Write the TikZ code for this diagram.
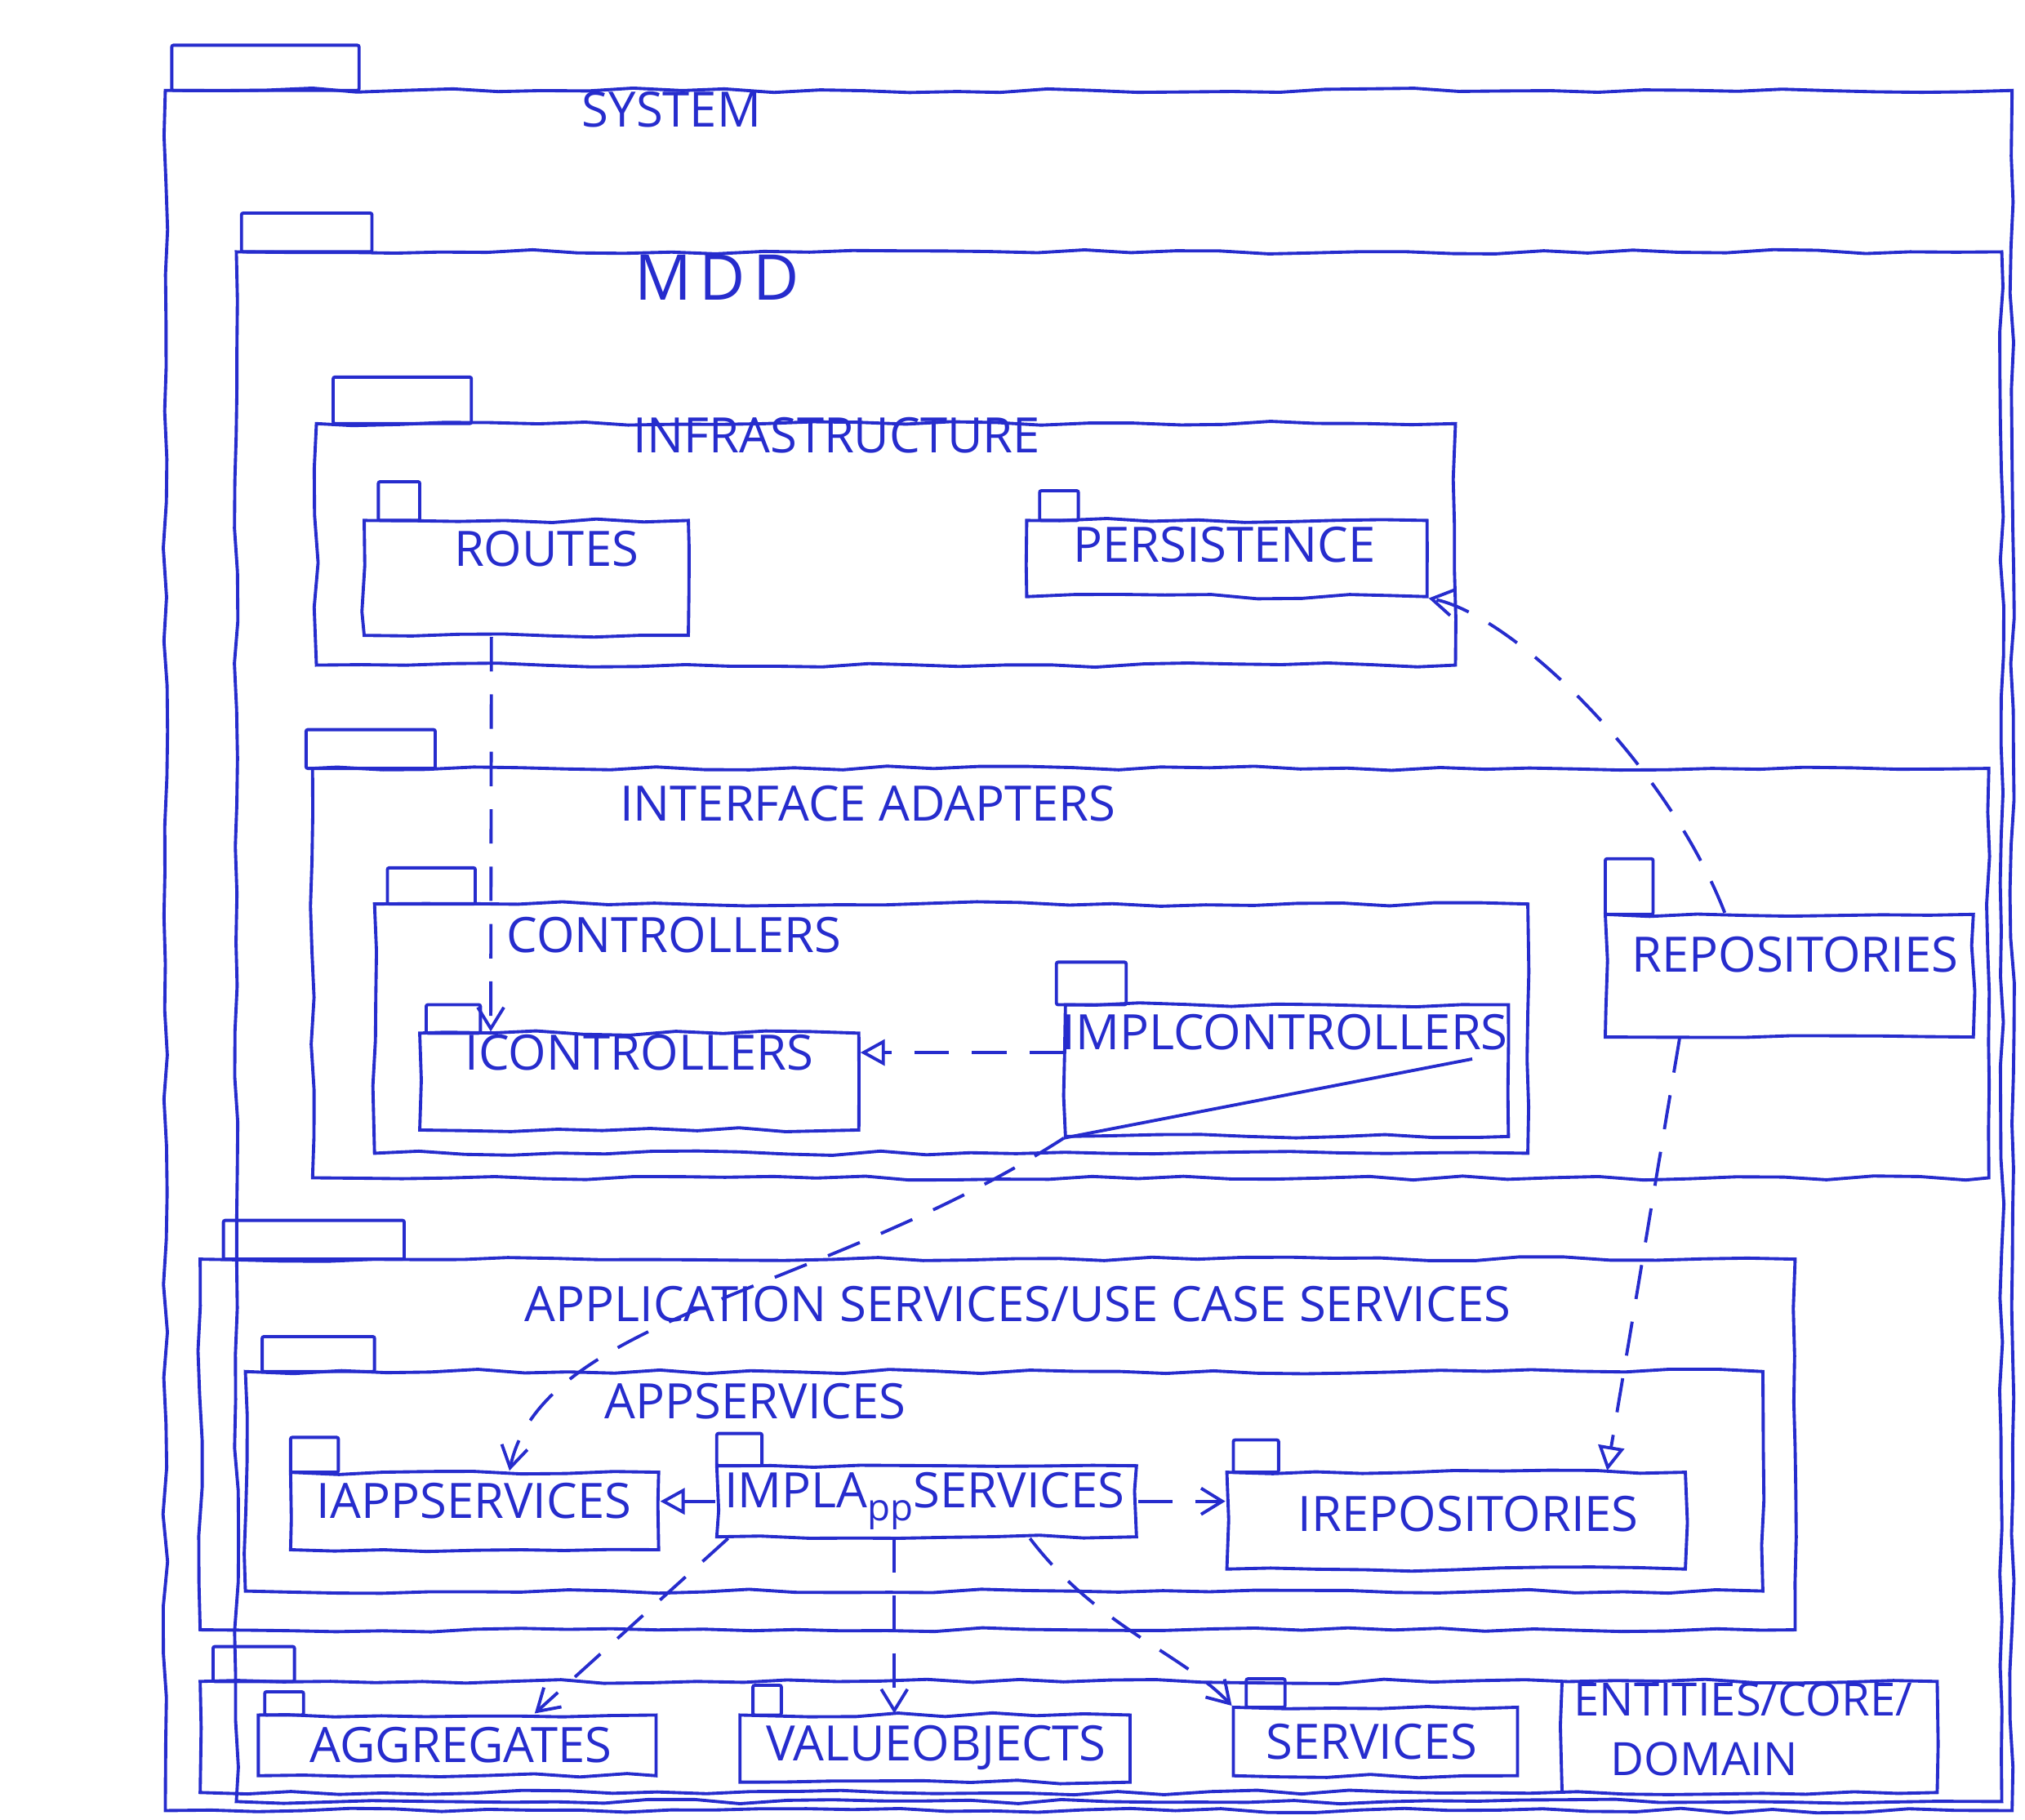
\documentclass[tikz,border=0pt]{standalone}
\usepackage{fontspec}
\setmainfont{Open Sans}
\usetikzlibrary{arrows.meta,fit,calc,decorations.pathmorphing}
\definecolor{ink}{RGB}{38,44,205}
\pgfmathsetseed{7}
\tikzset{%
  >={Straight Barb[length=2.6mm,width=3.2mm]},
  % Specifications for style of packages:
       inkline/.style = {draw=ink, line width=1.1pt},
       pkgbase/.style = {inkline, inner sep=0pt, decorate,
                         decoration={random steps, segment length=16pt, amplitude=0.8pt}},
       pkgbody/.style = {pkgbase},
        pkgtab/.style = {inkline, inner sep=0pt, rounded corners=0.6pt},
       pkgname/.style = {text=ink, inner sep=1pt, font=\fontsize{17}{20}\selectfont},
  % Specifications for style of dependencies:
       depends/.style = {inkline, dash pattern=on 12pt off 8pt, ->},
      realizes/.style = {depends, -{Triangle[open, length=3mm, width=3.2mm, line width=1.1pt]}},
}

\begin{document}
\begin{tikzpicture}[x=0.15816mm, y=-0.15816mm]
  \useasboundingbox (0,0) rectangle (1568,1409);
  % Specification of packages (position, etc.)

  \node (systemtab)       [pkgtab,  fit={(133,35) (278,70)}] {};
  \node (system)          [pkgbody, fit={(128,70) (1558,1402)}] {};
  \node (systemlbl)       [pkgname] at (520,85) {SYSTEM};

  \node (mddtab)          [pkgtab,  fit={(187,165) (288,195)}] {};
  \node (mdd)             [pkgbody, fit={(183,195) (1550,1395)}] {};
  \node (mddlbl)          [pkgname, font=\fontsize{22}{26}\selectfont\addfontfeature{LetterSpace=12}] at (555,215) {MDD};

  % infrastructure
  \node (infratab)        [pkgtab,  fit={(258,292) (365,328)}] {};
  \node (infra)           [pkgbody, fit={(245,328) (1127,515)}] {};
  \node (infralbl)        [pkgname] at (648,337) {INFRASTRUCTURE};
  \node (routestab)       [pkgtab,  fit={(293,373) (325,403)}] {};
  \node (routes)          [pkgbody, fit={(282,403) (533,492)}] {};
  \node (routeslbl)       [pkgname] at (423,425) {ROUTES};
  \node (persistencetab)  [pkgtab,  fit={(805,380) (835,403)}] {};
  \node (persistence)     [pkgbody, fit={(795,403) (1105,462)}] {};
  \node (persistencelbl)  [pkgname] at (948,422) {PERSISTENCE};

  % interface adapters
  \node (ifadapttab)      [pkgtab,  fit={(237,565) (337,595)}] {};
  \node (ifadapt)         [pkgbody, fit={(242,595) (1540,912)}] {};
  \node (ifadaptlbl)      [pkgname] at (672,622) {INTERFACE ADAPTERS};
  \node (controllerstab)  [pkgtab,  fit={(300,672) (368,700)}] {};
  \node (controllers)     [pkgbody, fit={(290,700) (1183,893)}] {};
  \node (controllerslbl)  [pkgname] at (522,724) {CONTROLLERS};
  \node (icontrollerstab) [pkgtab,  fit={(330,778) (372,800)}] {};
  \node (icontrollers)    [pkgbody, fit={(325,800) (665,875)}] {};
  \node (icontrollerslbl) [pkgname] at (495,815) {ICONTROLLERS};
  \node (implcontrollerstab) [pkgtab,  fit={(818,745) (872,778)}] {};
  \node (implcontrollers) [pkgbody, fit={(825,778) (1168,880)}] {};
  \node (implcontrollerslbl) [pkgname] at (995,799) {IMPLCONTROLLERS};
  \node (repositoriestab) [pkgtab,  fit={(1243,665) (1280,708)}] {};
  \node (repositories)    [pkgbody, fit={(1243,708) (1528,803)}] {};
  \node (repositorieslbl) [pkgname] at (1390,739) {REPOSITORIES};

  % application services
  \node (appsvctab)       [pkgtab,  fit={(173,945) (313,975)}] {};
  \node (appsvc)          [pkgbody, fit={(155,975) (1390,1262)}] {};
  \node (appsvclbl)       [pkgname] at (788,1010) {APPLICATION SERVICES/USE CASE SERVICES};
  \node (appservicestab)  [pkgtab,  fit={(203,1035) (290,1062)}] {};
  \node (appservices)     [pkgbody, fit={(190,1062) (1365,1232)}] {};
  \node (appserviceslbl)  [pkgname] at (585,1085) {APPSERVICES};
  \node (iappservicestab) [pkgtab,  fit={(225,1113) (262,1140)}] {};
  \node (iappservices)    [pkgbody, fit={(225,1140) (510,1200)}] {};
  \node (iappserviceslbl) [pkgname] at (367,1162) {IAPPSERVICES};
  \node (implappservicestab) [pkgtab,  fit={(555,1110) (590,1135)}] {};
  \node (implappservices) [pkgbody, fit={(555,1135) (880,1190)}] {};
  \node (implappserviceslbl) [pkgname] at (716,1162) {IMPLA\raisebox{-0.5ex}{\fontsize{13}{14}\selectfont pp}SERVICES};
  \node (irepositoriestab) [pkgtab,  fit={(955,1115) (990,1140)}] {};
  \node (irepositories)   [pkgbody, fit={(950,1140) (1305,1215)}] {};
  \node (irepositorieslbl) [pkgname] at (1137,1172) {IREPOSITORIES};

  % domain
  \node (domaintab)       [pkgtab,  fit={(165,1275) (228,1302)}] {};
  \node (domain)          [pkgbody, fit={(155,1302) (1500,1388)}] {};
  \node (domaincell)      [inner sep=0pt, fit={(1210,1302) (1500,1388)}] {};
  \draw[pkgbase]          (domaincell.north west) -- (domaincell.south west);
  \node (domainlbl)       [pkgname, anchor=west, align=left, font=\fontsize{16}{21}\selectfont]
                          at (1216,1339) {ENTITIES/CORE/\\\hspace{0.8em}DOMAIN};
  \node (aggregatestab)   [pkgtab,  fit={(205,1310) (235,1328)}] {};
  \node (aggregates)      [pkgbody, fit={(200,1328) (508,1375)}] {};
  \node (aggregateslbl)   [pkgname] at (357,1351) {AGGREGATES};
  \node (valueobjectstab) [pkgtab,  fit={(583,1305) (605,1328)}] {};
  \node (valueobjects)    [pkgbody, fit={(573,1328) (875,1380)}] {};
  \node (valueobjectslbl) [pkgname] at (725,1353) {VALUEOBJECTS};
  \node (servicestab)     [pkgtab,  fit={(965,1300) (995,1322)}] {};
  \node (services)        [pkgbody, fit={(955,1322) (1175,1375)}] {};
  \node (serviceslbl)     [pkgname] at (1062,1349) {SERVICES};

  % Specification of dependencies
  \draw[depends]  ($(routes.south)+(-27,0)$) -- ($(icontrollers.north)+(-115,0)$);
  \draw[realizes] (implcontrollers.west |- icontrollerslbl) -- (icontrollers.east |- icontrollerslbl);
  \draw[depends]  ($(repositories.north)+(-50,0)$) .. controls (1290,590) and (1170,475) .. (persistence.south east);
  \draw[realizes] ($(repositories.south)+(-85,0)$) -- ($(irepositories.north)+(117,0)$);

  \coordinate (implctrlstart) at (1140,820);
  \draw[inkline]  (implctrlstart) -- (implcontrollers.south west);
  \draw[depends]  (implcontrollers.south west) .. controls (640,1000) and (420,1020) .. ($(iappservices.north)+(27,0)$);

  \draw[realizes] (implappservices.west) -- (implappservices.west -| iappservices.east);
  \draw[depends]  (implappservices.east) -- (implappservices.east -| irepositories.west);
  \draw[depends]  ($(implappservices.south west)+(10,0)$) -- ($(aggregates.north)+(60,0)$);
  \coordinate (voin) at ($(implappservices.south)+(-25,0)$);
  \draw[depends]  (voin) -- (voin |- valueobjects.north);
  \draw[depends]  ($(implappservices.south)+(80,0)$) .. controls (850,1260) and (915,1280) .. (services.north west);

\end{tikzpicture}
\end{document}
